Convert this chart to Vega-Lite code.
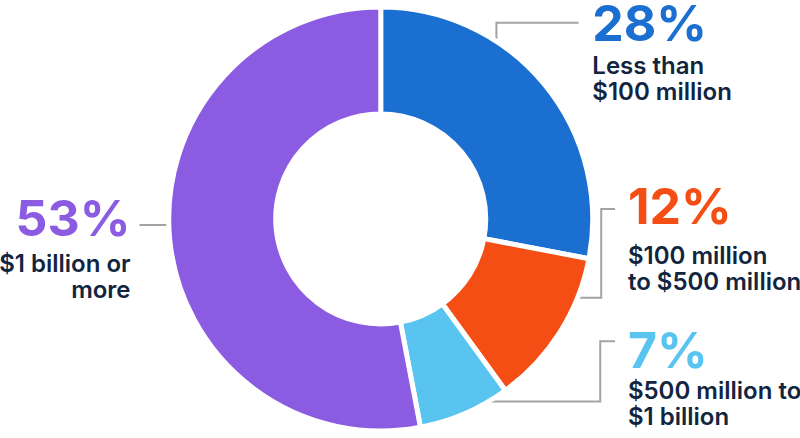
{
  "$schema": "https://vega.github.io/schema/vega-lite/v6.json",
  "width": 800,
  "height": 438,
  "padding": 0,
  "autosize": {"type": "fit", "contains": "padding"},
  "background": "white",
  "config": {"view": {"stroke": null}},
  "datasets": {
    "segments": [
      {"category": "Less than $100 million", "value": 28, "ord": 1},
      {"category": "$100 million to $500 million", "value": 12, "ord": 2},
      {"category": "$500 million to $1 billion", "value": 7, "ord": 3},
      {"category": "$1 billion or more", "value": 53, "ord": 4}
    ],
    "leaders": [
      {"g": "a", "i": 1, "x": 497, "y": 62},
      {"g": "a", "i": 2, "x": 497, "y": 23},
      {"g": "a", "i": 3, "x": 580, "y": 23},
      {"g": "b", "i": 1, "x": 560, "y": 302},
      {"g": "b", "i": 2, "x": 603, "y": 302},
      {"g": "b", "i": 3, "x": 603, "y": 212},
      {"g": "b", "i": 4, "x": 617, "y": 212},
      {"g": "c", "i": 1, "x": 470, "y": 407},
      {"g": "c", "i": 2, "x": 602, "y": 407},
      {"g": "c", "i": 3, "x": 602, "y": 346},
      {"g": "c", "i": 4, "x": 617, "y": 346},
      {"g": "d", "i": 1, "x": 136, "y": 228},
      {"g": "d", "i": 2, "x": 185, "y": 228}
    ],
    "labels": [
      {"category": "Less than $100 million", "pct": "28%", "text": "Less than\n$100 million", "x": 594, "py": 42, "ly": 75, "side": "right"},
      {"category": "$100 million to $500 million", "pct": "12%", "text": "$100 million\nto $500 million", "x": 630, "py": 227, "ly": 268, "side": "right"},
      {"category": "$500 million to $1 billion", "pct": "7%", "text": "$500 million to\n$1 billion", "x": 630, "py": 373, "ly": 405, "side": "right"},
      {"category": "$1 billion or more", "pct": "53%", "text": "$1 billion or\nmore", "x": 127, "py": 239, "ly": 276, "side": "left"}
    ]
  },
  "layer": [
    {
      "data": {"name": "leaders"},
      "mark": {"type": "line", "stroke": "#a3a3a3", "strokeWidth": 2, "interpolate": "linear"},
      "encoding": {
        "x": {"field": "x", "type": "quantitative", "scale": {"domain": [0, 800], "nice": false, "zero": false}, "axis": null},
        "y": {"field": "y", "type": "quantitative", "scale": {"domain": [0, 438], "nice": false, "zero": false, "reverse": true}, "axis": null},
        "detail": {"field": "g"},
        "order": {"field": "i"}
      }
    },
    {
      "data": {"values": [{"r": 1}]},
      "mark": {"type": "arc", "theta": 0, "theta2": 6.2832, "outerRadius": 213.5, "innerRadius": 103, "fill": "#dddddd"},
      "encoding": {
        "x": {"datum": 380, "type": "quantitative"},
        "y": {"datum": 222, "type": "quantitative"}
      }
    },
    {
      "data": {"name": "segments"},
      "mark": {"type": "arc", "outerRadius": 212, "innerRadius": 105, "stroke": "white", "strokeWidth": 5},
      "encoding": {
        "x": {"datum": 380, "type": "quantitative"},
        "y": {"datum": 222, "type": "quantitative"},
        "theta": {"field": "value", "type": "quantitative", "stack": true},
        "order": {"field": "ord"},
        "color": {
          "field": "category", "type": "nominal", "legend": null,
          "scale": {
            "domain": ["Less than $100 million", "$100 million to $500 million", "$500 million to $1 billion", "$1 billion or more"],
            "range": ["#1a6fd1", "#f54e14", "#5ac4f0", "#8b5be1"]
          }
        }
      }
    },
    {
      "data": {"name": "labels"},
      "transform": [{"filter": "datum.side === 'right'"}],
      "mark": {"type": "text", "font": "Inter", "fontSize": 50, "fontWeight": 700, "baseline": "alphabetic", "align": "left"},
      "encoding": {
        "x": {"field": "x", "type": "quantitative"},
        "y": {"field": "py", "type": "quantitative"},
        "text": {"field": "pct"},
        "color": {"field": "category", "type": "nominal", "legend": null}
      }
    },
    {
      "data": {"name": "labels"},
      "transform": [{"filter": "datum.side === 'left'"}],
      "mark": {"type": "text", "font": "Inter", "fontSize": 50, "fontWeight": 700, "baseline": "alphabetic", "align": "right"},
      "encoding": {
        "x": {"field": "x", "type": "quantitative"},
        "y": {"field": "py", "type": "quantitative"},
        "text": {"field": "pct"},
        "color": {"field": "category", "type": "nominal", "legend": null}
      }
    },
    {
      "data": {"name": "labels"},
      "transform": [{"filter": "datum.side === 'right'"}],
      "mark": {"type": "text", "font": "Inter", "fontSize": 24, "fontWeight": 600, "baseline": "alphabetic", "align": "left", "lineBreak": "\n", "lineHeight": 26, "color": "#12253f"},
      "encoding": {
        "x": {"field": "x", "type": "quantitative"},
        "y": {"field": "ly", "type": "quantitative"},
        "text": {"field": "text"}
      }
    },
    {
      "data": {"name": "labels"},
      "transform": [{"filter": "datum.side === 'left'"}],
      "mark": {"type": "text", "font": "Inter", "fontSize": 24, "fontWeight": 600, "baseline": "alphabetic", "align": "right", "lineBreak": "\n", "lineHeight": 26, "color": "#12253f"},
      "encoding": {
        "x": {"field": "x", "type": "quantitative"},
        "y": {"field": "ly", "type": "quantitative"},
        "text": {"field": "text"}
      }
    }
  ]
}
